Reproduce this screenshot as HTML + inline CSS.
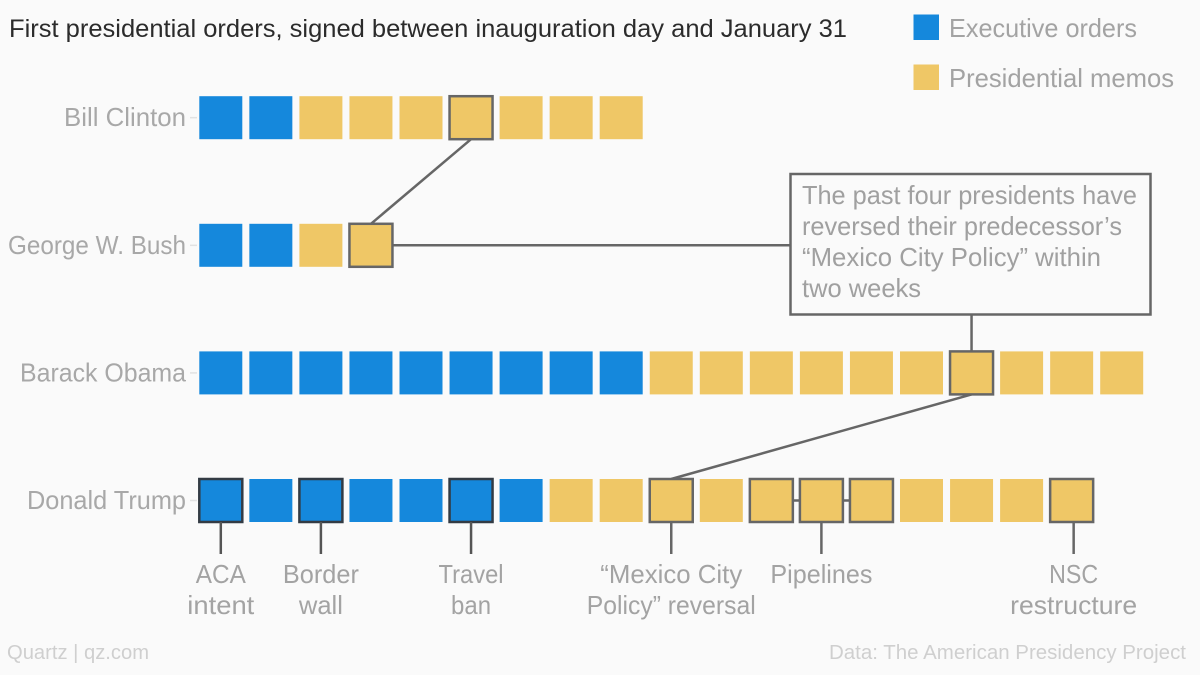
<!DOCTYPE html>
<html>
<head>
<meta charset="utf-8">
<style>
html,body{margin:0;padding:0;background:#fafafa;}
svg{display:block;font-family:"Liberation Sans",sans-serif;}
</style>
</head>
<body>
<svg id="chart" width="1200" height="675" viewBox="0 0 1200 675" xmlns="http://www.w3.org/2000/svg">
  <rect x="0" y="0" width="1200" height="675" fill="#fafafa"/>
  <text x="9" y="37" font-size="25" fill="#2b2b2b" textLength="838" lengthAdjust="spacingAndGlyphs">First presidential orders, signed between inauguration day and January 31</text>

  <rect x="913.5" y="14.5" width="25.5" height="25.5" fill="#1588dc"/>
  <text x="949" y="37" font-size="26" fill="#a3a3a3" textLength="188" lengthAdjust="spacingAndGlyphs">Executive orders</text>
  <rect x="913.5" y="64.5" width="25.5" height="25.5" fill="#efc766"/>
  <text x="949" y="87" font-size="26" fill="#a3a3a3" textLength="225" lengthAdjust="spacingAndGlyphs">Presidential memos</text>

  <g id="connectors"></g>
  <g id="ticks"></g>
  <g id="labels"></g>
  <g id="squares"></g>
  <g id="notes"></g>

  <rect x="790.5" y="174" width="360" height="140.5" fill="#fafafa" stroke="#666" stroke-width="2.5"/>
  <text x="802" y="204" font-size="26" fill="#a0a0a0" textLength="335" lengthAdjust="spacingAndGlyphs">The past four presidents have</text>
  <text x="802" y="235" font-size="26" fill="#a0a0a0" textLength="320" lengthAdjust="spacingAndGlyphs">reversed their predecessor’s</text>
  <text x="802" y="266" font-size="26" fill="#a0a0a0" textLength="299" lengthAdjust="spacingAndGlyphs">“Mexico City Policy” within</text>
  <text x="802" y="297" font-size="26" fill="#a0a0a0" textLength="119" lengthAdjust="spacingAndGlyphs">two weeks</text>

  <text x="7" y="659" font-size="20" fill="#cfcfcf" textLength="142" lengthAdjust="spacingAndGlyphs">Quartz | qz.com</text>
  <text x="829" y="659" font-size="20" fill="#cfcfcf" textLength="357" lengthAdjust="spacingAndGlyphs">Data: The American Presidency Project</text>
</svg>
<script>
const presidents = ["Bill Clinton", "George W. Bush", "Barack Obama", "Donald Trump"];
const executiveOrders = [2, 2, 9, 7];
const presidentialMemos = [7, 2, 10, 11];
const highlightedClinton = [5];
const highlightedBush = [3];
const highlightedObama = [15];
const highlightedTrump = [0, 2, 5, 9, 11, 12, 13, 17];
const trumpNoteOrders = [0, 2, 5, 9, 12, 17];
const trumpNoteLines = [
  ["ACA", "intent"],
  ["Border", "wall"],
  ["Travel", "ban"],
  ["“Mexico City", "Policy” reversal"],
  ["Pipelines"],
  ["NSC", "restructure"]
];

const NS = "http://www.w3.org/2000/svg";
const BLUE = "#1588dc";
const GOLD = "#efc766";
const SIZE = 43;

function xPos(i) { return 199.3 + i * 50.05; }
function yPos(r) { return 96.2 + r * 127.6; }
function xMid(i) { return xPos(i) + SIZE / 2; }
function yMid(r) { return yPos(r) + SIZE / 2; }

/* Text-fitting layout: the reference typeface is narrower than Liberation Sans for some strings. */
function categoryFit(name) {
  return { "Bill Clinton": 122, "George W. Bush": 178, "Barack Obama": 166, "Donald Trump": 159 }[name];
}
function noteFit(text) {
  return { "ACA": 50, "intent": 67, "Border": 76, "wall": 44, "Travel": 65, "ban": 40,
           "“Mexico City": 142, "Policy” reversal": 169, "Pipelines": 102, "NSC": 49, "restructure": 127 }[text];
}
function noteNudge(orderIndex) {
  return orderIndex === 17 ? 2 : 0;
}

const connectorLayer = document.getElementById("connectors");
const tickLayer = document.getElementById("ticks");
const labelLayer = document.getElementById("labels");
const squareLayer = document.getElementById("squares");
const noteLayer = document.getElementById("notes");
const highlights = [highlightedClinton, highlightedBush, highlightedObama, highlightedTrump];

function makeLine(x1, y1, x2, y2, color, width) {
  const l = document.createElementNS(NS, "line");
  l.setAttribute("x1", x1);
  l.setAttribute("y1", y1);
  l.setAttribute("x2", x2);
  l.setAttribute("y2", y2);
  l.setAttribute("stroke", color);
  l.setAttribute("stroke-width", width);
  return l;
}

presidents.forEach(function (name, r) {
  const tick = makeLine(190, yMid(r), 197, yMid(r), "#e2e2e2", 1.5);
  
  
  tickLayer.appendChild(tick);

  const label = document.createElementNS(NS, "text");
  
  
  label.setAttribute("x", 186);
  label.setAttribute("y", yMid(r) + 8.5);
  label.setAttribute("text-anchor", "end");
  label.setAttribute("font-size", 26);
  label.setAttribute("fill", "#a8a8a8");
  const fit = categoryFit(name);
  if (fit) {
    label.setAttribute("textLength", fit);
    label.setAttribute("lengthAdjust", "spacingAndGlyphs");
  }
  label.textContent = name;
  labelLayer.appendChild(label);

  const total = executiveOrders[r] + presidentialMemos[r];
  for (let i = 0; i < total; i++) {
    const isExec = i < executiveOrders[r];
    const isHigh = highlights[r].indexOf(i) !== -1;
    const sq = document.createElementNS(NS, "rect");
    
    
    sq.setAttribute("x", xPos(i));
    sq.setAttribute("y", yPos(r));
    sq.setAttribute("width", SIZE);
    sq.setAttribute("height", SIZE);
    sq.setAttribute("fill", isExec ? BLUE : GOLD);
    if (isHigh) {
      sq.setAttribute("stroke", isExec ? "#333b44" : "#666");
      sq.setAttribute("stroke-width", 2.5);
    }
    squareLayer.appendChild(sq);
  }
});

/* connectors between highlighted squares */
const clintonToBush = makeLine(xMid(highlightedClinton[0]), yPos(0) + SIZE, xMid(highlightedBush[0]), yPos(1), "#666", 2.5);


connectorLayer.appendChild(clintonToBush);

const bushToCallout = makeLine(xPos(highlightedBush[0]) + SIZE, yMid(1), 790.5, yMid(1), "#666", 2.5);


connectorLayer.appendChild(bushToCallout);

const calloutToObama = makeLine(xMid(highlightedObama[0]), 314.5, xMid(highlightedObama[0]), yPos(2), "#666", 2.5);


connectorLayer.appendChild(calloutToObama);

const obamaToTrump = makeLine(xMid(highlightedObama[0]), yPos(2) + SIZE, xMid(highlightedTrump[3]), yPos(3), "#666", 2.5);


connectorLayer.appendChild(obamaToTrump);

const pipelinesLink = makeLine(xMid(highlightedTrump[4]), yMid(3), xMid(highlightedTrump[6]), yMid(3), "#666", 2.5);


connectorLayer.appendChild(pipelinesLink);

/* leader lines and labels below the Trump row */
trumpNoteOrders.forEach(function (orderIndex, n) {
  const cx = xMid(orderIndex) + noteNudge(orderIndex);
  const isExec = orderIndex < executiveOrders[3];
  const leader = makeLine(cx, yPos(3) + SIZE, cx, 554, isExec ? "#555" : "#666", 2.5);
  
  
  noteLayer.appendChild(leader);

  trumpNoteLines[n].forEach(function (lineText, k) {
    const t = document.createElementNS(NS, "text");
    
    
    t.setAttribute("x", cx);
    t.setAttribute("y", 583 + k * 31);
    t.setAttribute("text-anchor", "middle");
    t.setAttribute("font-size", 26);
    t.setAttribute("fill", "#a3a3a3");
    const fit = noteFit(lineText);
    if (fit) {
      t.setAttribute("textLength", fit);
      t.setAttribute("lengthAdjust", "spacingAndGlyphs");
    }
    t.textContent = lineText;
    noteLayer.appendChild(t);
  });
});
</script>
</body>
</html>
